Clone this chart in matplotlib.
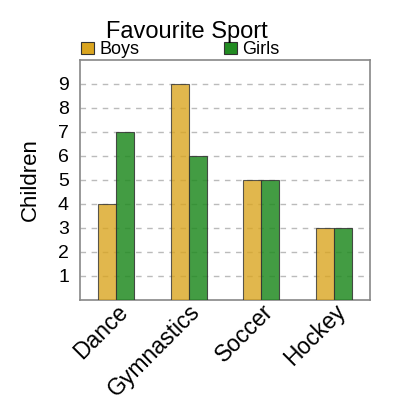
import numpy as np
import matplotlib.pyplot as plt

plt.rcParams['font.family'] = ['Liberation Sans', 'DejaVu Sans']

# data
sports = ['Dance', 'Gymnastics', 'Soccer', 'Hockey']
boys = [4, 9, 5, 3]
girls = [7, 6, 5, 3]

fig = plt.figure(figsize=(4, 4), dpi=100)
ax = fig.add_axes([0.2, 0.25, 0.725, 0.6])

x = np.arange(len(sports))
w = 0.25

ax.bar(x - w/2, boys, w, color='goldenrod', alpha=0.8, edgecolor='#333333',
       linewidth=0.8, label='Boys', zorder=3)
ax.bar(x + w/2, girls, w, color='forestgreen', alpha=0.85, edgecolor='#333333',
       linewidth=0.8, label='Girls', zorder=3)

ax.set_xlim(-0.5, 3.5)
ax.set_ylim(0, 10)
ax.set_yticks(range(1, 10))
ax.set_xticks(x)
ax.set_xticklabels(sports, rotation=45, ha='right', rotation_mode='anchor', fontsize=16.5)
ax.tick_params(axis='y', labelsize=14, length=0, pad=8)
ax.tick_params(axis='x', length=0, pad=0)
ax.yaxis.grid(True, linestyle=(0, (4, 4)), color='#bbbbbb', linewidth=1, zorder=0)

for s in ax.spines.values():
    s.set_color('#888888')
    s.set_linewidth(1.2)

ax.set_ylabel('Children', fontsize=16, labelpad=12)

leg = ax.legend(loc='lower left', bbox_to_anchor=(-0.02, 0.977), ncol=2, frameon=False,
                fontsize=13, handlelength=0.7, handleheight=0.7, handletextpad=0.3,
                columnspacing=4.7, borderaxespad=0)
for h in leg.legend_handles:
    h.set_alpha(1)

fig.text(0.467, 0.893, 'Favourite Sport', ha='center', va='bottom', fontsize=17)

plt.savefig('out.png')
